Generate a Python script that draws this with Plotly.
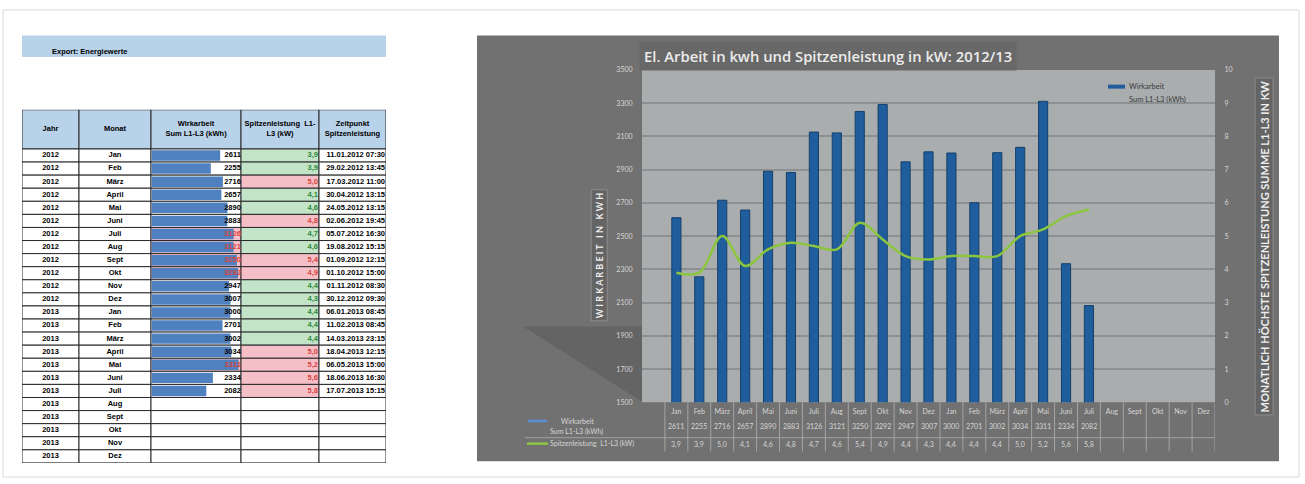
import plotly.graph_objects as go

W, H = 1305, 484


def fx(x):
    return x / W


def fy(y):
    return 1 - y / H


# ---- data ----
jahre = ['2012'] * 12 + ['2013'] * 12
monate = ['Jan', 'Feb', 'März', 'April', 'Mai', 'Juni', 'Juli', 'Aug', 'Sept', 'Okt', 'Nov', 'Dez'] * 2
wirkarbeit = [2611, 2255, 2716, 2657, 2890, 2883, 3126, 3121, 3250, 3292, 2947, 3007,
              3000, 2701, 3002, 3034, 3311, 2334, 2082]
spitzen = [3.9, 3.9, 5.0, 4.1, 4.6, 4.8, 4.7, 4.6, 5.4, 4.9, 4.4, 4.3,
           4.4, 4.4, 4.4, 5.0, 5.2, 5.6, 5.8]
zeitpunkt = ['11.01.2012 07:30', '29.02.2012 13:45', '17.03.2012 11:00', '30.04.2012 13:15',
             '24.05.2012 13:15', '02.06.2012 19:45', '05.07.2012 16:30', '19.08.2012 15:15',
             '01.09.2012 12:15', '01.10.2012 15:00', '01.11.2012 08:30', '30.12.2012 09:30',
             '06.01.2013 08:45', '11.02.2013 08:45', '14.03.2013 23:15', '18.04.2013 12:15',
             '06.05.2013 15:00', '18.06.2013 16:30', '17.07.2013 15:15']
kopf = ['Jahr', 'Monat', 'Wirkarbeit<br>Sum L1-L3 (kWh)', 'Spitzenleistung  L1-<br>L3 (kW)',
        'Zeitpunkt<br>Spitzenleistung']

# table column bounds (px inside the table)
spalten = [0, 57, 129, 219, 297, 364]

HEAD_BLUE = '#b8d2e9'
GREEN_FILL, GREEN_TXT = '#c4e4c9', '#2f8a35'
RED_FILL, RED_TXT = '#f5bfc8', '#d9433b'
n = len(wirkarbeit)

fig = go.Figure()

# ---- table cells (x3 / y3) ----
c_y, c_x, c_base, c_w, c_col = [], [], [], [], []
for c in range(5):
    c_y.append(-2)
    c_x.append(spalten[c + 1] - spalten[c])
    c_base.append(spalten[c])
    c_w.append(3)
    c_col.append(HEAD_BLUE)
    for r in range(24):
        col = 'white'
        if r < n and c == 2 and wirkarbeit[r] > 3100:
            col = RED_FILL
        if r < n and c == 3:
            col = GREEN_FILL if spitzen[r] <= 4.7 else RED_FILL
        c_y.append(r)
        c_x.append(spalten[c + 1] - spalten[c])
        c_base.append(spalten[c])
        c_w.append(1)
        c_col.append(col)

fig.add_trace(go.Bar(x=c_x, y=c_y, base=c_base, width=c_w, orientation='h',
                     marker=dict(color=c_col, line=dict(color='#2a2a2a', width=1)),
                     xaxis='x3', yaxis='y3', hoverinfo='skip'))

tfont = dict(family='Liberation Sans', size=7.5, color='black', weight='bold')
mitten = [(spalten[i] + spalten[i + 1]) / 2 for i in range(5)]
fig.add_trace(go.Scatter(x=mitten, y=[-2] * 5, text=kopf, mode='text', textposition='middle center',
                         textfont=tfont, xaxis='x3', yaxis='y3', hoverinfo='skip'))
fig.add_trace(go.Scatter(x=[mitten[0]] * 24, y=list(range(24)), text=jahre, mode='text',
                         textposition='middle center', textfont=tfont, xaxis='x3', yaxis='y3',
                         hoverinfo='skip'))
fig.add_trace(go.Scatter(x=[mitten[1]] * 24, y=list(range(24)), text=monate, mode='text',
                         textposition='middle center', textfont=tfont, xaxis='x3', yaxis='y3',
                         hoverinfo='skip'))
fig.add_trace(go.Scatter(x=[spalten[4] - 1] * n, y=list(range(n)),
                         text=[f'{v:.1f}'.replace('.', ',') for v in spitzen], mode='text',
                         textposition='middle left',
                         textfont=dict(family='Liberation Sans', size=7.5, weight='bold',
                                       color=[GREEN_TXT if v <= 4.7 else RED_TXT for v in spitzen]),
                         xaxis='x3', yaxis='y3', hoverinfo='skip'))
fig.add_trace(go.Scatter(x=[spalten[5] - 1] * n, y=list(range(n)), text=zeitpunkt, mode='text',
                         textposition='middle left', textfont=tfont, xaxis='x3', yaxis='y3',
                         hoverinfo='skip'))

# data bars (x4 / y3)
fig.add_trace(go.Bar(x=wirkarbeit, y=list(range(n)), orientation='h', width=0.8,
                     marker=dict(color='#4f81c0', line=dict(width=0)),
                     xaxis='x4', yaxis='y3', hoverinfo='skip'))
fig.add_trace(go.Scatter(x=[3400] * n, y=list(range(n)), text=[str(v) for v in wirkarbeit],
                         mode='text', textposition='middle left',
                         textfont=dict(family='Liberation Sans', size=7.5, weight='bold',
                                       color=[RED_TXT if v > 3100 else 'black' for v in wirkarbeit]),
                         xaxis='x4', yaxis='y3', hoverinfo='skip'))

# ---- main chart ----
idx = list(range(n))
fig.add_trace(go.Bar(x=idx, y=wirkarbeit, width=0.4,
                     marker=dict(color='#1f5d9c', line=dict(color='#16406b', width=1)),
                     xaxis='x', yaxis='y', hoverinfo='skip'))
fig.add_trace(go.Scatter(x=idx, y=spitzen, mode='lines',
                         line=dict(color='#8cc63f', width=2.5, shape='spline', smoothing=1),
                         xaxis='x', yaxis='y2', hoverinfo='skip'))

light = '#d6d6d6'
cfont = dict(family='Lato', size=7, color=light)

shapes = [
    # frame
    dict(type='rect', xref='paper', yref='paper', x0=fx(3), x1=fx(1299), y0=fy(480), y1=fy(5),
         line=dict(color='#dadada', width=1), layer='below'),
    # banner
    dict(type='rect', xref='paper', yref='paper', x0=fx(22), x1=fx(386), y0=fy(53), y1=fy(31),
         fillcolor=HEAD_BLUE, line=dict(width=0), layer='below'),
    # dark panel
    dict(type='rect', xref='paper', yref='paper', x0=fx(477), x1=fx(1279), y0=fy(464), y1=fy(31),
         fillcolor='#717171', line=dict(width=0), layer='below'),
    # shadow
    dict(type='path', xref='paper', yref='paper',
         path=f'M {fx(523)},{fy(327)} L {fx(643)},{fy(327)} L {fx(643)},{fy(404)} Z',
         fillcolor='#646464', line=dict(width=0), layer='below'),
    # plot area
    dict(type='rect', xref='paper', yref='paper', x0=fx(642), x1=fx(1215), y0=fy(404), y1=fy(66),
         fillcolor='#a9adae', line=dict(width=0), layer='below'),
    # data table rule
    dict(type='line', xref='paper', yref='paper', x0=fx(525), x1=fx(1215), y0=fy(440), y1=fy(440),
         line=dict(color='#a0a0a0', width=1)),
    # legend keys
    dict(type='line', xref='paper', yref='paper', x0=fx(528), x1=fx(547), y0=fy(423), y1=fy(423),
         line=dict(color='#5a8fd6', width=2.5)),
    dict(type='line', xref='paper', yref='paper', x0=fx(527), x1=fx(548), y0=fy(446), y1=fy(446),
         line=dict(color='#8cc63f', width=2.5)),
    dict(type='line', xref='paper', yref='paper', x0=fx(1108), x1=fx(1125), y0=fy(83), y1=fy(83),
         line=dict(color='#1f5d9c', width=4)),
]
for i in range(25):
    shapes.append(dict(type='line', xref='x', yref='paper', x0=i - 0.5, x1=i - 0.5,
                       y0=fy(454), y1=fy(404), line=dict(color='#a4a4a4', width=1)))


def note(text, x, y, xanchor='center', **kw):
    kw.setdefault('font', cfont)
    return dict(text=text, x=x, y=y, xref=kw.pop('xref', 'paper'), yref='paper',
                xanchor=xanchor, yanchor='middle', showarrow=False, **kw)


annotations = [
    note('<b>Export: Energiewerte</b>', fx(50), fy(47), 'left',
         font=dict(family='Liberation Sans', size=7.5, color='black')),
    note('El. Arbeit in kwh und Spitzenleistung in kW: 2012/13', fx(828), fy(52),
         bgcolor='#686868', borderpad=4,
         font=dict(family='Open Sans', size=14.8, weight=600, color='#ececec')),
    note('<b>W I R K A R B E I T   I N   K W H</b>', fx(599.5), fy(255), textangle=-90,
         bgcolor='#646464', bordercolor='#8c8c8c', borderwidth=1, borderpad=2,
         font=dict(family='Lato', size=9, color='#eeeeee')),
    note('<b>MONATLICH HÖCHSTE SPITZENLEISTUNG SUMME L1-L3 IN KW</b>', fx(1264.5), fy(246),
         textangle=-90, bgcolor='#646464', bordercolor='#8c8c8c', borderwidth=1, borderpad=2,
         font=dict(family='Lato', size=11, color='#eeeeee')),
    note('Wirkarbeit', fx(1127), fy(83), 'left', font=dict(family='Lato', size=7.5, color='#3a3a3a')),
    note('Sum L1-L3 (kWh)', fx(1127), fy(96), 'left',
         font=dict(family='Lato', size=7.5, color='#3a3a3a')),
    note('Wirkarbeit', fx(559), fy(423), 'left'),
    note('Sum L1-L3 (kWh)', fx(548), fy(434), 'left'),
    note('Spitzenleistung  L1-L3 (kW)', fx(548), fy(446), 'left'),
]
for i, v in enumerate(wirkarbeit):
    annotations.append(note(str(v), i, fy(428), xref='x'))
for i, v in enumerate(spitzen):
    annotations.append(note(f'{v:.1f}'.replace('.', ','), i, fy(447), xref='x'))

fig.update_layout(
    width=W, height=H, margin=dict(l=0, r=0, t=0, b=0),
    paper_bgcolor='white', plot_bgcolor='rgba(0,0,0,0)',
    showlegend=False, barmode='overlay',
    shapes=shapes, annotations=annotations,
    xaxis=dict(domain=[fx(642), fx(1215)], range=[-1.5, 23.5], tickvals=list(range(24)),
               ticktext=monate, ticks='outside', ticklen=2, tickcolor='rgba(0,0,0,0)',
               showgrid=False, zeroline=False, tickfont=cfont, anchor='y', fixedrange=True),
    yaxis=dict(domain=[fy(404), fy(66)], range=[1500, 3500], tick0=1500, dtick=200,
               gridcolor='#8c9092', gridwidth=1.5, zeroline=False, tickfont=cfont,
               ticks='outside', ticklen=7, tickcolor='rgba(0,0,0,0)', anchor='x', fixedrange=True),
    yaxis2=dict(overlaying='y', side='right', range=[0, 10], dtick=1, showgrid=False,
                zeroline=False, tickfont=cfont, ticks='outside', ticklen=7,
                tickcolor='rgba(0,0,0,0)', anchor='x', fixedrange=True),
    xaxis3=dict(domain=[fx(22), fx(386)], range=[0, 364], visible=False, anchor='y3',
                fixedrange=True),
    yaxis3=dict(domain=[fy(465.6), fy(106.5)], range=[23.5, -3.5], visible=False, anchor='x3',
                fixedrange=True),
    xaxis4=dict(domain=[fx(151), fx(241)], range=[-25, 3405], visible=False, anchor='y3',
                fixedrange=True),
)

fig.write_html('out.html', config={'displayModeBar': False},
               post_script="document.body.style.margin='0';")
